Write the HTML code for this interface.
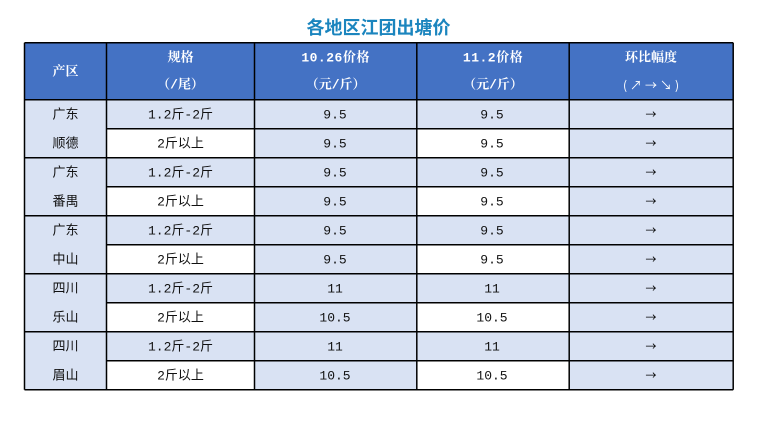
<!DOCTYPE html>
<html>
<head>
<meta charset="utf-8">
<style>
html,body{margin:0;padding:0;background:#fff;width:763px;height:425px;overflow:hidden;}
svg{display:block;}
.t{font-family:"Liberation Sans","Noto Sans CJK SC",sans-serif;font-weight:bold;font-size:18px;fill:#1B85BE;}
.h{font-family:"Liberation Mono","Noto Serif CJK SC",serif;font-weight:bold;font-size:13px;fill:#fff;}
.b{font-family:"Liberation Mono","WenQuanYi Zen Hei","Noto Sans CJK SC",sans-serif;font-size:13px;fill:#111;}
.a{font-family:"Noto Sans CJK SC","WenQuanYi Zen Hei",sans-serif;font-size:11px;fill:#000;}
.ha{font-family:"Noto Sans CJK SC","WenQuanYi Zen Hei",sans-serif;font-size:12px;fill:#fff;letter-spacing:3px;}
</style>
</head>
<body>
<svg width="763" height="425" viewBox="0 0 763 425" xmlns="http://www.w3.org/2000/svg">
<text class="t" x="378.5" y="28" text-anchor="middle" dominant-baseline="central">各地区江团出塘价</text>

<rect x="24.5" y="42.8" width="708.7" height="56.9" fill="#4472C4"/>
<rect x="24.5" y="99.7" width="708.7" height="290" fill="#D9E2F3"/>
<g fill="#fff">
<rect x="106.5" y="128.7" width="148" height="29"/>
<rect x="416.8" y="128.7" width="152.4" height="29"/>
<rect x="106.5" y="186.7" width="148" height="29"/>
<rect x="416.8" y="186.7" width="152.4" height="29"/>
<rect x="106.5" y="244.7" width="148" height="29"/>
<rect x="416.8" y="244.7" width="152.4" height="29"/>
<rect x="106.5" y="302.7" width="148" height="29"/>
<rect x="416.8" y="302.7" width="152.4" height="29"/>
<rect x="106.5" y="360.7" width="148" height="29"/>
<rect x="416.8" y="360.7" width="152.4" height="29"/>
</g>

<g stroke="#000" stroke-width="1.5" fill="none">
<line x1="24.5" y1="42.8" x2="733.2" y2="42.8"/>
<line x1="24.5" y1="99.7" x2="733.2" y2="99.7"/>
<line x1="106.5" y1="128.7" x2="733.2" y2="128.7"/>
<line x1="24.5" y1="157.7" x2="733.2" y2="157.7"/>
<line x1="106.5" y1="186.7" x2="733.2" y2="186.7"/>
<line x1="24.5" y1="215.7" x2="733.2" y2="215.7"/>
<line x1="106.5" y1="244.7" x2="733.2" y2="244.7"/>
<line x1="24.5" y1="273.7" x2="733.2" y2="273.7"/>
<line x1="106.5" y1="302.7" x2="733.2" y2="302.7"/>
<line x1="24.5" y1="331.7" x2="733.2" y2="331.7"/>
<line x1="106.5" y1="360.7" x2="733.2" y2="360.7"/>
<line x1="24.5" y1="389.7" x2="733.2" y2="389.7"/>
<line x1="24.5" y1="42.8" x2="24.5" y2="389.7"/>
<line x1="106.5" y1="42.8" x2="106.5" y2="389.7"/>
<line x1="254.5" y1="42.8" x2="254.5" y2="389.7"/>
<line x1="416.8" y1="42.8" x2="416.8" y2="389.7"/>
<line x1="569.2" y1="42.8" x2="569.2" y2="389.7"/>
<line x1="733.2" y1="42.8" x2="733.2" y2="389.7"/>
</g>

<g class="h" text-anchor="middle" dominant-baseline="central">
<text x="65.5" y="72">产区</text>
<text x="180.5" y="58">规格</text>
<text x="180.5" y="85">（/尾）</text>
<text x="335.6" y="58" letter-spacing="0.5">10.26价格</text>
<text x="335.6" y="85">（元/斤）</text>
<text x="493" y="58" letter-spacing="0.5">11.2价格</text>
<text x="493" y="85">（元/斤）</text>
<text x="651" y="58">环比幅度</text>
</g>
<text class="ha" x="652.5" y="85" text-anchor="middle" dominant-baseline="central">(↗→↘)</text>

<g class="b" text-anchor="middle" dominant-baseline="central">
<text x="65.5" y="115">广东</text>
<text x="65.5" y="144">顺德</text>
<text x="65.5" y="173">广东</text>
<text x="65.5" y="202">番禺</text>
<text x="65.5" y="231">广东</text>
<text x="65.5" y="260">中山</text>
<text x="65.5" y="289">四川</text>
<text x="65.5" y="318">乐山</text>
<text x="65.5" y="347">四川</text>
<text x="65.5" y="376">眉山</text>

<text x="180.5" y="115">1.2斤-2斤</text>
<text x="180.5" y="144">2斤以上</text>
<text x="180.5" y="173">1.2斤-2斤</text>
<text x="180.5" y="202">2斤以上</text>
<text x="180.5" y="231">1.2斤-2斤</text>
<text x="180.5" y="260">2斤以上</text>
<text x="180.5" y="289">1.2斤-2斤</text>
<text x="180.5" y="318">2斤以上</text>
<text x="180.5" y="347">1.2斤-2斤</text>
<text x="180.5" y="376">2斤以上</text>

<text x="335" y="115">9.5</text>
<text x="335" y="144">9.5</text>
<text x="335" y="173">9.5</text>
<text x="335" y="202">9.5</text>
<text x="335" y="231">9.5</text>
<text x="335" y="260">9.5</text>
<text x="335" y="289">11</text>
<text x="335" y="318">10.5</text>
<text x="335" y="347">11</text>
<text x="335" y="376">10.5</text>

<text x="492" y="115">9.5</text>
<text x="492" y="144">9.5</text>
<text x="492" y="173">9.5</text>
<text x="492" y="202">9.5</text>
<text x="492" y="231">9.5</text>
<text x="492" y="260">9.5</text>
<text x="492" y="289">11</text>
<text x="492" y="318">10.5</text>
<text x="492" y="347">11</text>
<text x="492" y="376">10.5</text>
</g>

<g class="a" text-anchor="middle" dominant-baseline="central">
<text x="651" y="114">→</text>
<text x="651" y="143">→</text>
<text x="651" y="172">→</text>
<text x="651" y="201">→</text>
<text x="651" y="230">→</text>
<text x="651" y="259">→</text>
<text x="651" y="288">→</text>
<text x="651" y="317">→</text>
<text x="651" y="346">→</text>
<text x="651" y="375">→</text>
</g>
</svg>
</body>
</html>
